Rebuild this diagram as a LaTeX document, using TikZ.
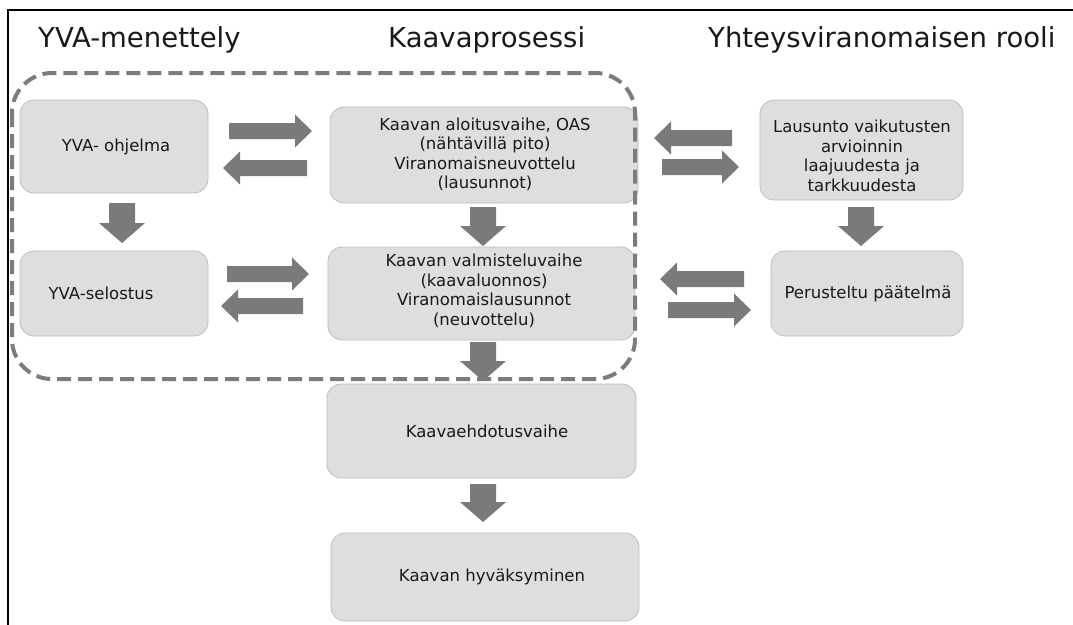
\documentclass[tikz,border=0pt]{standalone}
\usepackage{fontspec}
\setmainfont{DejaVu Sans}
\definecolor{boxfill}{HTML}{DEDEDE}
\definecolor{boxline}{HTML}{BDBDBD}
\definecolor{arrowc}{HTML}{7A7A7A}
\definecolor{dashc}{HTML}{7C7C7C}
\newcommand\dnarrow[3]{\fill[arrowc] (#1-13,#2) -- (#1+13,#2) -- (#1+13,#3-20) -- (#1+23,#3-20) -- (#1,#3) -- (#1-23,#3-20) -- (#1-13,#3-20) -- cycle;}
\newcommand\rtarrow[3]{\fill[arrowc] (#1,#3-8) -- (#2-17,#3-8) -- (#2-17,#3-16.5) -- (#2,#3) -- (#2-17,#3+16.5) -- (#2-17,#3+8) -- (#1,#3+8) -- cycle;}
\newcommand\ltarrow[3]{\fill[arrowc] (#1,#3-8) -- (#2+17,#3-8) -- (#2+17,#3-16.5) -- (#2,#3) -- (#2+17,#3+16.5) -- (#2+17,#3+8) -- (#1,#3+8) -- cycle;}
\begin{document}
\begin{tikzpicture}[x=1pt,y=-1pt,
  title/.style={inner sep=0pt, anchor=base west, font=\fontsize{27.5}{33}\selectfont, text=black!90},
  box/.style={rounded corners=14pt, fill=boxfill, draw=boxline, line width=0.8pt, inner sep=0pt},
  boxtext/.style={align=center, inner sep=0pt, font=\fontsize{16.5}{19.5}\selectfont, text=black!90}]
\useasboundingbox (0,0) rectangle (1073,624);
\fill[white] (0,0) rectangle (1073,624);
\draw[line width=2pt] (8,630) -- (8,10) -- (1080,10);
% titles
\node[title] (t1) at (38,47) {YVA-menettely};
\node[title] (t2) at (388,47) {Kaavaprosessi};
\node[title] (t3) at (708,47) {Yhteysviranomaisen rooli};
% boxes
\node[box, minimum width=188pt, minimum height=93pt] (b1) at (114,146.5) {};
\node[box, minimum width=308pt, minimum height=96pt] (b2) at (484,155) {};
\node[box, minimum width=203pt, minimum height=100pt] (b3) at (861.5,150) {};
\node[box, minimum width=188pt, minimum height=85pt] (b4) at (114,293.5) {};
\node[box, minimum width=307pt, minimum height=93pt] (b5) at (481.5,293.5) {};
\node[box, minimum width=192pt, minimum height=85pt] (b6) at (867,293.5) {};
\node[box, minimum width=309pt, minimum height=94pt] (b7) at (481.5,431) {};
\node[box, minimum width=308pt, minimum height=88pt] (b8) at (485,577) {};
% texts
\node[boxtext] (b1t) at (116,146.5) {YVA- ohjelma};
\node[boxtext] (b2t) at (485,154.5) {Kaavan aloitusvaihe, OAS\\(nähtävillä pito)\\Viranomaisneuvottelu\\(lausunnot)};
\node[boxtext] (b3t) at (862,156) {Lausunto vaikutusten\\arvioinnin\\laajuudesta ja\\tarkkuudesta};
\node[boxtext] (b4t) at (101,293.5) {YVA-selostus};
\node[boxtext] (b5t) at (484,291) {Kaavan valmisteluvaihe\\(kaavaluonnos)\\Viranomaislausunnot\\(neuvottelu)};
\node[boxtext] (b6t) at (868,293.5) {Perusteltu päätelmä};
\node[boxtext] (b7t) at (487,431) {Kaavaehdotusvaihe};
\node[boxtext] (b8t) at (492,577) {Kaavan hyväksyminen};
% dashed group
\draw[dashc, line width=4pt, dash pattern=on 14pt off 7pt, rounded corners=40pt] (12,73) rectangle (635,379);
% vertical arrows
\dnarrow{122}{203}{243}
\dnarrow{483}{207}{246}
\dnarrow{861}{207}{246}
\dnarrow{483}{342}{381}
\dnarrow{483}{484}{522}
% horizontal arrows
\rtarrow{229}{312}{131}
\ltarrow{307}{223}{168}
\ltarrow{732}{654}{138}
\rtarrow{662}{739}{167}
\rtarrow{227}{309}{274}
\ltarrow{303}{221}{306}
\ltarrow{744}{660}{279}
\rtarrow{668}{751}{310}
\end{tikzpicture}
\end{document}
